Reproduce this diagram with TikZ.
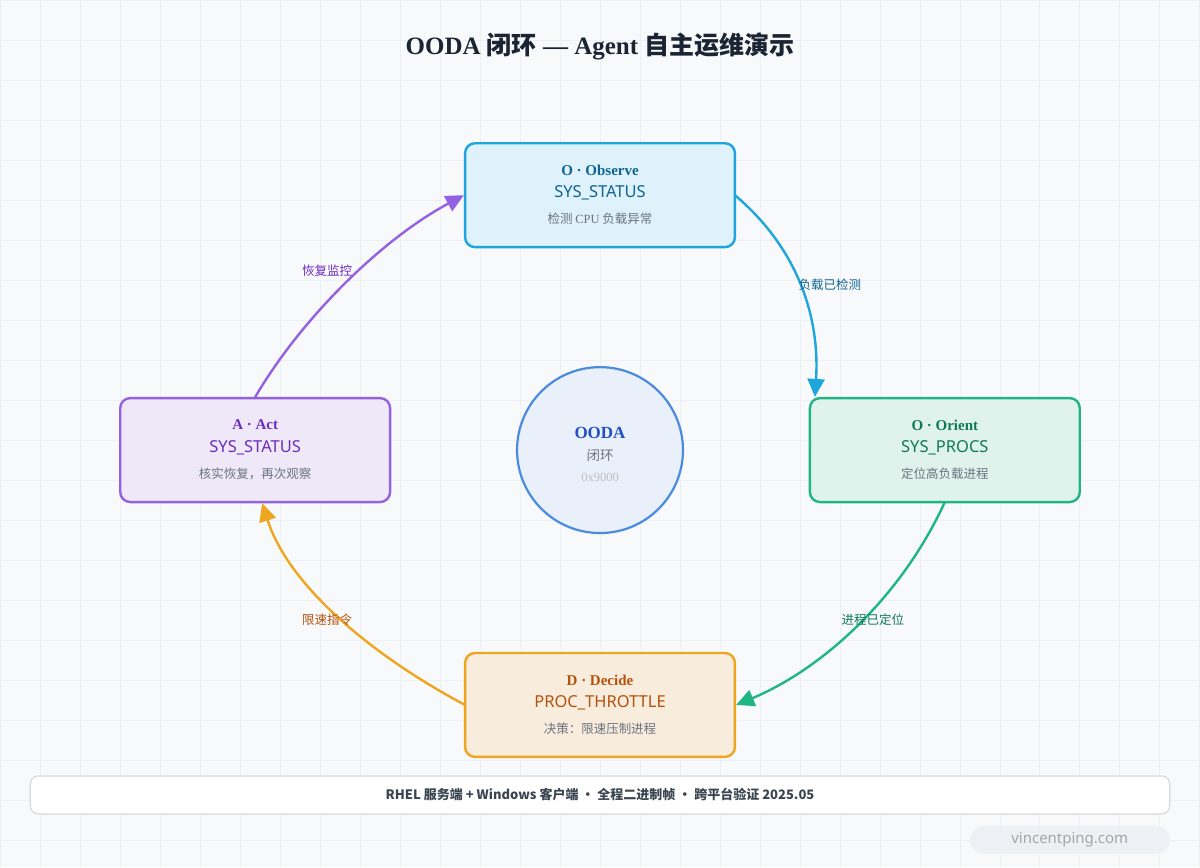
\documentclass[tikz,border=0pt]{standalone}
\usepackage{fontspec}
\setmainfont{Liberation Serif}
\setsansfont{Noto Sans}
\newfontfamily\cjk{Noto Sans CJK SC}
\usetikzlibrary{arrows.meta}
\definecolor{bg}{HTML}{F8F9FB}
\definecolor{gridc}{HTML}{EDF0F4}
\definecolor{cB}{HTML}{1EA5DC}\definecolor{fB}{HTML}{DFF1FA}\definecolor{tB}{HTML}{0E6490}
\definecolor{cG}{HTML}{1FB683}\definecolor{fG}{HTML}{DFF3EC}\definecolor{tG}{HTML}{0E7A55}
\definecolor{cO}{HTML}{EEA620}\definecolor{fO}{HTML}{F8ECDD}\definecolor{tO}{HTML}{B5520B}
\definecolor{cP}{HTML}{9361E2}\definecolor{fP}{HTML}{EEE8F8}\definecolor{tP}{HTML}{6D2BC0}
\definecolor{cC}{HTML}{4A8ADF}\definecolor{fC}{HTML}{EAF0FA}\definecolor{tC}{HTML}{1E4FC4}
\definecolor{gt}{HTML}{6B7480}\definecolor{dark}{HTML}{1A2433}
\begin{document}
\begin{tikzpicture}[x=1pt,y=-1pt,
 box/.style={rounded corners=10pt,line width=2.4pt,minimum width=270pt,minimum height=104pt},
 ttl/.style={font=\bfseries\fontsize{15}{17}\selectfont},
 mid/.style={font=\sffamily\fontsize{16.5}{19}\selectfont},
 sub/.style={font=\cjk\fontsize{12.5}{14}\selectfont,text=gt},
 arr/.style={line width=2.4pt,-{Triangle[length=18pt,width=17pt]}},
 lab/.style={font=\cjk\fontsize{12.5}{14}\selectfont}]
\fill[bg] (0,0) rectangle (1200,867);
\foreach \i in {0,40,...,1200} \draw[gridc,line width=0.6pt] (\i,0)--(\i,867);
\foreach \j in {0,40,...,867} \draw[gridc,line width=0.6pt] (0,\j)--(1200,\j);
\node[text=dark,font=\bfseries\fontsize{25}{28}\selectfont] (title) at (600,46) {OODA {\cjk 闭环} — Agent {\cjk 自主运维演示}};
\node[box,draw=cB,fill=fB] (obs) at (600,195) {};
\node[ttl,text=tB] at (600,170) {O · Observe};
\node[mid,text=tB] at (600,193) {SYS\_STATUS};
\node[sub] at (600,219) {检测 {\rmfamily CPU} 负载异常};
\node[box,draw=cG,fill=fG] (ori) at (945,450) {};
\node[ttl,text=tG] at (945,425) {O · Orient};
\node[mid,text=tG] at (945,448) {SYS\_PROCS};
\node[sub] at (945,474) {定位高负载进程};
\node[box,draw=cO,fill=fO] (dec) at (600,705) {};
\node[ttl,text=tO] at (600,680) {D · Decide};
\node[mid,text=tO] at (600,703) {PROC\_THROTTLE};
\node[sub] at (600,729) {决策：限速压制进程};
\node[box,draw=cP,fill=fP] (act) at (255,450) {};
\node[ttl,text=tP] at (255,425) {A · Act};
\node[mid,text=tP] at (255,448) {SYS\_STATUS};
\node[sub] at (255,474) {核实恢复，再次观察};
\node[circle,draw=cC,fill=fC,line width=2.2pt,minimum size=166pt] (c) at (600,450) {};
\node[text=tC,font=\bfseries\fontsize{17}{19}\selectfont] at (600,433) {OODA};
\node[font=\cjk\fontsize{13.5}{15}\selectfont,text=gt] at (600,455) {闭环};
\node[text=gray!50,font=\fontsize{12.5}{14}\selectfont] at (600,477) {0x9000};
\coordinate (oR) at (735,195);
\draw[arr,cB] (oR) .. controls (800,250) and (820,320) .. (ori.north west -| 815,398);
\coordinate (gB) at (945,502);
\draw[arr,cG] (gB) .. controls (900,600) and (820,670) .. (dec.east);
\coordinate (dL) at (465,705);
\draw[arr,cO] (dL) .. controls (380,660) and (290,590) .. (act.south -| 262,502);
\coordinate (aT) at (255,397);
\draw[arr,cP] (aT) .. controls (300,320) and (380,240) .. (obs.west);
\node[lab,text=tB] at (830,285) {负载已检测};
\node[lab,text=tG] at (873,620) {进程已定位};
\node[lab,text=tO] at (327,620) {限速指令};
\node[lab,text=tP] at (327,271) {恢复监控};
\node[draw=gridc!80!gray,fill=white,line width=1.2pt,rounded corners=8pt,minimum width=1140pt,minimum height=38pt,text=dark!85,font=\cjk\bfseries\fontsize{13}{15}\selectfont] (foot) at (600,795) {RHEL 服务端 + Windows 客户端 · 全程二进制帧 · 跨平台验证 2025.05};
\node[fill=gridc,rounded corners=14pt,minimum width=200pt,minimum height=28pt,text=gray!70,font=\sffamily\fontsize{15}{17}\selectfont] (wm) at (1070,840) {vincentping.com};
\end{tikzpicture}
\end{document}
